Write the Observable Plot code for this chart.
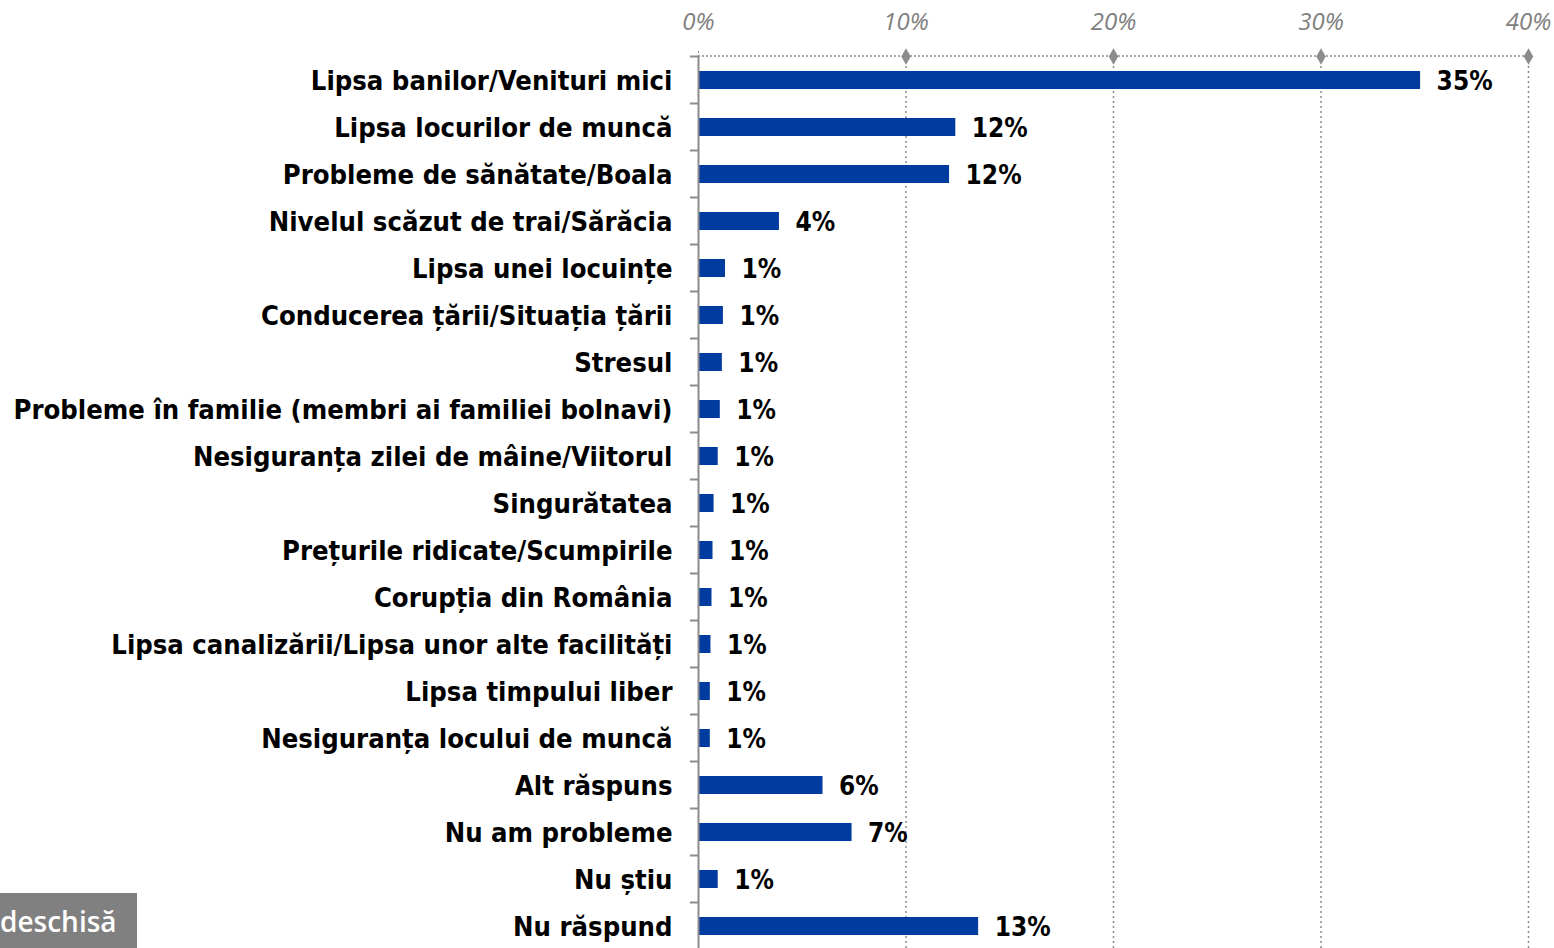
<!DOCTYPE html>
<html>
<head>
<meta charset="utf-8">
<script src="https://cdn.jsdelivr.net/npm/d3@7"></script>
<script src="https://cdn.jsdelivr.net/npm/@observablehq/plot@0.6"></script>
<style>
  html, body { margin: 0; padding: 0; background: #fff; overflow: hidden; }
  #wrap { position: relative; width: 1554px; height: 948px; overflow: hidden; }
  #note { position: absolute; left: 0; top: 893px; width: 137px; height: 56px; background: #808080;
          color: #fff; font-family: "Open Sans", sans-serif; font-weight: 600; font-size: 28px;
          display: flex; align-items: center; justify-content: flex-start; white-space: nowrap; }
  #note span { padding-left: 0px; }
</style>
</head>
<body>
<div id="wrap"><div id="chart"></div><div id="note"><span>deschisă</span></div></div>
<script>
const categories = [
  "Lipsa banilor/Venituri mici",
  "Lipsa locurilor de muncă",
  "Probleme de sănătate/Boala",
  "Nivelul scăzut de trai/Sărăcia",
  "Lipsa unei locuințe",
  "Conducerea țării/Situația țării",
  "Stresul",
  "Probleme în familie (membri ai familiei bolnavi)",
  "Nesiguranța zilei de mâine/Viitorul",
  "Singurătatea",
  "Prețurile ridicate/Scumpirile",
  "Corupția din România",
  "Lipsa canalizării/Lipsa unor alte facilități",
  "Lipsa timpului liber",
  "Nesiguranța locului de muncă",
  "Alt răspuns",
  "Nu am probleme",
  "Nu știu",
  "Nu răspund"
];
const values = [34.8, 12.4, 12.1, 3.9, 1.3, 1.2, 1.15, 1.05, 0.95, 0.75, 0.7, 0.65, 0.6, 0.57, 0.57, 6.0, 7.4, 0.95, 13.5];
const valueLabels = ["35%", "12%", "12%", "4%", "1%", "1%", "1%", "1%", "1%", "1%", "1%", "1%", "1%", "1%", "1%", "6%", "7%", "1%", "13%"];
const xTicks = [0, 10, 20, 30, 40];

const data = categories.map((c, i) => ({cat: c, value: values[i], label: valueLabels[i]}));

const W = 1554, H = 950, ML = 698, MR = 26, MT = 56, MB = 0;
const labelFont = "'DejaVu Sans Condensed', 'DejaVu Sans', sans-serif";
const gridColor = "#8c8c8c";

const plot = Plot.plot({
  width: W, height: H,
  marginLeft: ML, marginRight: MR, marginTop: MT, marginBottom: MB,
  style: {fontFamily: labelFont, background: "#fff"},
  x: {domain: [0, 40], label: null},
  y: {domain: categories, paddingInner: 0.62, paddingOuter: 0.31, label: null},
  marks: [
    Plot.gridX(xTicks.slice(1), {stroke: gridColor, strokeOpacity: 1, strokeWidth: 1.5, strokeDasharray: "2,3"}),
    Plot.axisX(xTicks, {anchor: "top", tickSize: 6, tickPadding: 21, stroke: gridColor, strokeDasharray: "2,2",
      tickFormat: d => d + "%", fontFamily: "'Open Sans', sans-serif", fontStyle: "italic", fontSize: 24, fill: "#808080", label: null}),
    Plot.axisY({tickSize: 0, tickPadding: 26, fontSize: 27.2, fontWeight: "bold", fill: "#000", label: null, dy: 1}),
    Plot.barX(data, {x: "value", y: "cat", fill: "#003b9f"}),
    Plot.text(data, {x: "value", y: "cat", text: "label", dx: 16, dy: 1, textAnchor: "start", fontSize: 26, fontWeight: "bold", fill: "#000"}),
    Plot.ruleX([0], {stroke: "#8c8c8c", strokeWidth: 2}),
    Plot.dot(xTicks.slice(1), {x: d => d, frameAnchor: "top", symbol: "diamond", r: 5, fill: gridColor, stroke: "none"})
  ]
});

// top dotted baseline and y-axis ticks at band boundaries, derived from the scales
const svg = d3.select(plot);
const ys = plot.scale("y");
const xs = plot.scale("x");
const step = ys.step, bw = ys.bandwidth;
const g = svg.append("g");
g.append("line")
  .attr("x1", xs.apply(0)).attr("x2", xs.apply(40))
  .attr("y1", MT).attr("y2", MT)
  .attr("stroke", gridColor).attr("stroke-width", 1.5).attr("stroke-dasharray", "2,2");
for (let i = 0; i <= categories.length; i++) {
  const yb = (i < categories.length ? ys.apply(categories[i]) : ys.apply(categories[i - 1]) + step) - (step - bw) / 2;
  g.append("line")
    .attr("x1", xs.apply(0) - 8).attr("x2", xs.apply(0))
    .attr("y1", yb).attr("y2", yb)
    .attr("stroke", "#8c8c8c").attr("stroke-width", 2);
}
document.getElementById("chart").appendChild(plot);
</script>
</body>
</html>
